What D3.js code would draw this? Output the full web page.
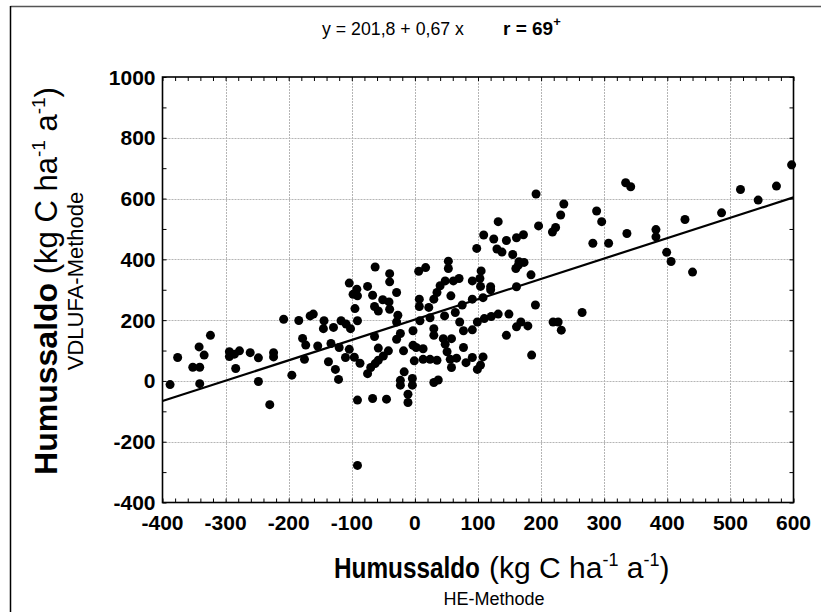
<!DOCTYPE html>
<html><head><meta charset="utf-8">
<script src="https://cdn.jsdelivr.net/npm/d3@7"></script>
<style>body{margin:0;background:#fff}svg{display:block}</style>
</head><body>
<svg id="c" width="821" height="612"></svg>
<script>
// HE-Methode (x) and VDLUFA-Methode (y) humus balances, kg C ha-1 a-1
const heX = [
-388,-376,-352,-341,-342,-334,-341,-324,-294,-294,-286,-278,-284,-261,-248,-248,-230,-224,-224,-208,
-195,-184,-178,-173,-175,-166,-161,-154,-144,-145,-137,-133,-129,-126,-121,-120,-117,-109,-104,-110,
-102,-104,-98,-96,-92,-91,-95,-91,-87,-91,-91,-75,-67,-64,-58,-64,-75,-70,-63,-58,
-58,-67,-51,-50,-45,-42,-40,-41,-29,-27,-29,-23,-29,-18,-17,-23,-23,-11,-11,-4,
-4,-3,-3,7,7,8,-1,2,13,13,22,24,30,30,30,24,35,40,47,30,
37,45,48,51,56,58,57,61,64,71,77,77,58,81,-63,-40,-40,6,17,53,
53,48,70,35,66,
192,334,342,516,544,573,597,236,231,223,218,196,132,109,125,145,161,172,98,130,
138,155,288,296,282,307,336,382,382,399,406,428,440,486,165,173,160,164,184,105,
103,91,120,161,
104,120,75,91,108,191,265,99,110,121,132,149,91,145,161,168,179,219,227,232,
91,108,104,99,185
];
const vdY = [
-12,77,45,45,112,85,-9,150,96,80,88,99,41,93,76,-2,-78,93,79,203,
19,199,140,118,71,214,220,115,198,172,63,123,176,38,5,110,198,187,104,77,
172,322,285,78,302,280,238,198,58,-63,-278,311,282,245,230,146,24,44,57,68,
108,-58,267,82,-60,99,236,260,291,216,194,156,137,99,30,2,-14,-44,-71,8,
-14,117,165,269,245,198,66,110,106,71,242,208,269,172,150,71,291,313,214,-5,
3,139,121,96,71,44,280,329,225,194,165,110,139,60,375,353,326,361,373,394,
370,329,337,68,75,
615,652,639,630,595,641,711,582,546,505,490,510,524,480,467,462,471,481,436,434,
424,416,559,524,453,453,485,498,474,423,393,531,358,553,392,390,370,381,349,362,
337,329,310,310,
311,300,250,269,274,250,225,194,205,212,220,220,168,150,178,194,181,194,194,167,
77,79,52,38,85
];
const xTicks = [-400,-300,-200,-100,0,100,200,300,400,500,600];
const yTicks = [-400,-200,0,200,400,600,800,1000];
const fitIntercept = 201.8, fitSlope = 0.67;

const svg = d3.select("#c");
const W = 821, H = 612;
const L = 162.5, R = 793.5, T = 77, B = 502.5;
const x = d3.scaleLinear().domain([-400, 600]).range([L, R]);
const y = d3.scaleLinear().domain([-400, 1000]).range([B, T]);
const FONT = "'Liberation Sans', Arial, sans-serif";

// outer border
svg.append("line").attr("x1",10.5).attr("y1",6.5).attr("x2",W).attr("y2",6.5).attr("stroke","#555").attr("stroke-width",1.5);
svg.append("line").attr("x1",10.5).attr("y1",6).attr("x2",10.5).attr("y2",H).attr("stroke","#000").attr("stroke-width",1.5);

// grid
const grid = svg.append("g").attr("stroke","#b5b5b5").attr("stroke-width",1).attr("stroke-dasharray","2,1");
grid.selectAll("line.gx").data(xTicks.slice(1,-1)).join("line")
  .attr("x1",d=>Math.round(x(d))+0.5).attr("x2",d=>Math.round(x(d))+0.5).attr("y1",T).attr("y2",B);
grid.selectAll("line.gy").data(yTicks.slice(1,-1)).join("line")
  .attr("y1",d=>Math.round(y(d))+0.5).attr("y2",d=>Math.round(y(d))+0.5).attr("x1",L).attr("x2",R);

// axes (inward minor ticks on all four sides)
const xMinor = d3.range(-400, 601, 20);
const yMinor = d3.range(-400, 1001, 100);
svg.append("g").attr("transform",`translate(0,${B})`)
  .call(d3.axisBottom(x).tickValues(xMinor).tickSize(-4).tickFormat(""))
  .call(g=>g.select(".domain").remove()).selectAll("line").attr("stroke","#000");
svg.append("g").attr("transform",`translate(0,${T})`)
  .call(d3.axisTop(x).tickValues(xMinor).tickSize(-4).tickFormat(""))
  .call(g=>g.select(".domain").remove()).selectAll("line").attr("stroke","#000");
svg.append("g").attr("transform",`translate(${L},0)`)
  .call(d3.axisLeft(y).tickValues(yMinor).tickSize(-4).tickFormat(""))
  .call(g=>g.select(".domain").remove()).selectAll("line").attr("stroke","#000");
svg.append("g").attr("transform",`translate(${R},0)`)
  .call(d3.axisRight(y).tickValues(yMinor).tickSize(-4).tickFormat(""))
  .call(g=>g.select(".domain").remove()).selectAll("line").attr("stroke","#000");

// tick labels
svg.append("g").selectAll("text").data(xTicks).join("text")
  .attr("x",d=>x(d)).attr("y",B+27).attr("text-anchor","middle")
  .attr("font-family",FONT).attr("font-weight","bold").attr("font-size",21).text(d=>d);
svg.append("g").selectAll("text").data(yTicks).join("text")
  .attr("x",L-7).attr("y",d=>y(d)+7.5).attr("text-anchor","end")
  .attr("font-family",FONT).attr("font-weight","bold").attr("font-size",21).text(d=>d);

// frame
svg.append("rect").attr("x",L).attr("y",T).attr("width",R-L).attr("height",B-T)
  .attr("fill","none").attr("stroke","#000").attr("stroke-width",1.6);

// regression line
svg.append("line").attr("x1",x(-400)).attr("y1",y(fitIntercept+fitSlope*-400))
  .attr("x2",x(600)).attr("y2",y(fitIntercept+fitSlope*600))
  .attr("stroke","#000").attr("stroke-width",2.2);

// points
svg.append("g").selectAll("circle").data(heX.map((v,i)=>[v,vdY[i]])).join("circle")
  .attr("cx",d=>x(d[0])).attr("cy",d=>y(d[1])).attr("r",4.5).attr("fill","#000");

// helper: horizontally condense a text to a target width
function condense(sel, tx, ty, target){
  const w = sel.node().getComputedTextLength();
  sel.attr("transform",`translate(${tx},${ty}) scale(${Math.min(1,target/w)},1)`);
}

// title
const t1 = svg.append("text").attr("font-family",FONT).attr("font-size",18).text("y = 201,8 + 0,67 x");
condense(t1, 322, 35, 142);
const t2 = svg.append("text").attr("x",503).attr("y",35)
  .attr("font-family",FONT).attr("font-size",19).attr("font-weight","bold");
t2.append("tspan").text("r = 69");
t2.append("tspan").attr("font-size",13).attr("dy",-9).text("+");

// x axis title
const xh = svg.append("text").attr("font-family",FONT)
  .attr("font-weight","bold").attr("font-size",29).text("Humussaldo");
condense(xh, 334, 578, 146);
const xt = svg.append("text").attr("x",489).attr("y",578)
  .attr("font-family",FONT).attr("font-size",30);
xt.append("tspan").text("(kg C ha");
xt.append("tspan").attr("font-size",18).attr("dy",-12).text("-1");
xt.append("tspan").attr("dy",12).text(" a");
xt.append("tspan").attr("font-size",18).attr("dy",-12).text("-1");
xt.append("tspan").attr("dy",12).text(")");
svg.append("text").attr("x",494).attr("y",605).attr("text-anchor","middle")
  .attr("font-family",FONT).attr("font-size",18).text("HE-Methode");

// y axis title
const yt = svg.append("text").attr("transform","translate(57,281) rotate(-90)").attr("text-anchor","middle")
  .attr("font-family",FONT).attr("font-size",31);
yt.append("tspan").attr("font-weight","bold").attr("font-size",32).text("Humussaldo");
yt.append("tspan").text(" (kg C ha");
yt.append("tspan").attr("font-size",19).attr("dy",-12).text("-1");
yt.append("tspan").attr("dy",12).text(" a");
yt.append("tspan").attr("font-size",19).attr("dy",-12).text("-1");
yt.append("tspan").attr("dy",12).text(")");
svg.append("text").attr("transform","translate(83,281) rotate(-90)").attr("text-anchor","middle")
  .attr("font-family",FONT).attr("font-size",22).text("VDLUFA-Methode");
</script>
</body></html>
